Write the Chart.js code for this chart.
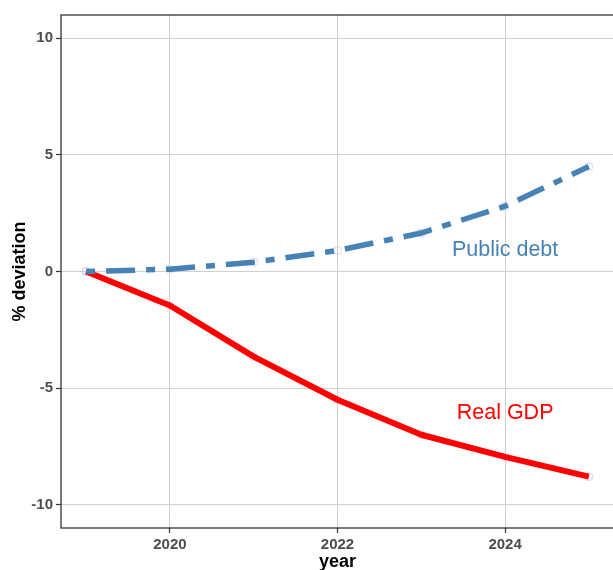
<!DOCTYPE html>
<html>
<head>
<meta charset="utf-8">
<script src="https://cdn.jsdelivr.net/npm/chart.js@4.4.1/dist/chart.umd.min.js"></script>
<style>
html,body{margin:0;padding:0;background:#fff;overflow:hidden;}
#wrap{width:620px;height:570px;}
</style>
</head>
<body>
<div id="wrap"><canvas id="c" width="620" height="570"></canvas></div>
<script>
const years = [2019, 2020, 2021, 2022, 2023, 2024, 2025];
const realGDP = [0, -1.46, -3.65, -5.5, -7.0, -7.95, -8.8];
const publicDebt = [0, 0.1, 0.4, 0.9, 1.65, 2.8, 4.5];
const xTicks = [2020, 2022, 2024];
const yTicks = [-10, -5, 0, 5, 10];
const annotations = [
  {text: 'Public debt', x: 2024, y: 1, color: '#4682b4'},
  {text: 'Real GDP', x: 2024, y: -6, color: '#ff0000'}
];

const FONT = '"Liberation Sans", Arial, sans-serif';

const decor = {
  id: 'decor',
  beforeDatasetsDraw(chart) {
    const {ctx, chartArea: a, scales} = chart;
    ctx.save();
    ctx.strokeStyle = '#333333';
    ctx.lineWidth = 1.3;
    ctx.strokeRect(a.left, a.top, a.right - a.left, a.bottom - a.top);
    // faint point rings, drawn beneath the lines
    ctx.strokeStyle = 'rgba(195,195,240,0.7)';
    ctx.lineWidth = 1;
    [realGDP, publicDebt].forEach(series => {
      series.forEach((v, i) => {
        ctx.beginPath();
        ctx.arc(scales.x.getPixelForValue(years[i]), scales.y.getPixelForValue(v), 4, 0, Math.PI * 2);
        ctx.stroke();
      });
    });
    ctx.restore();
  },
  afterDatasetsDraw(chart) {
    const {ctx, scales} = chart;
    ctx.save();
    ctx.font = '21.5px ' + FONT;
    ctx.textAlign = 'center';
    ctx.textBaseline = 'alphabetic';
    annotations.forEach(an => {
      ctx.fillStyle = an.color;
      const px = scales.x.getPixelForValue(an.x);
      const py = scales.y.getPixelForValue(an.y);
      ctx.fillText(an.text, px, py + 0.358 * 21.5);
    });
    ctx.restore();
  },
  afterDraw(chart) {
    const {ctx, chartArea: a} = chart;
    ctx.save();
    ctx.fillStyle = '#000';
    ctx.font = 'bold 18px ' + FONT;
    ctx.textAlign = 'center';
    ctx.textBaseline = 'alphabetic';
    ctx.fillText('year', (a.left + a.right) / 2, 567);
    ctx.translate(25, (a.top + a.bottom) / 2);
    ctx.rotate(-Math.PI / 2);
    ctx.fillText('% deviation', 0, 0);
    ctx.restore();
  }
};

new Chart(document.getElementById('c'), {
  type: 'line',
  data: {
    datasets: [
      {
        label: 'Public debt',
        data: years.map((y, i) => ({x: y, y: publicDebt[i]})),
        borderColor: '#4682b4',
        borderWidth: 5.5,
        borderDash: [9, 11, 29, 11],
        borderCapStyle: 'butt',
        pointRadius: 0,
        tension: 0
      },
      {
        label: 'Real GDP',
        data: years.map((y, i) => ({x: y, y: realGDP[i]})),
        borderColor: '#ff0000',
        borderWidth: 6,
        borderCapStyle: 'butt',
        borderJoinStyle: 'round',
        pointRadius: 0,
        tension: 0
      }
    ]
  },
  options: {
    responsive: false,
    animation: false,
    devicePixelRatio: 1,
    layout: {padding: {top: 15, right: 6, left: 0, bottom: 0}},
    plugins: {legend: {display: false}, tooltip: {enabled: false}},
    scales: {
      x: {
        type: 'linear',
        min: 2018.7,
        max: 2025.3,
        afterBuildTicks(s) { s.ticks = xTicks.map(v => ({value: v})); },
        afterFit(s) { s.height = 42; },
        border: {display: false},
        grid: {color: '#d0d0d0', lineWidth: 1, tickLength: 5, tickColor: '#333333', tickWidth: 1.2},
        ticks: {
          padding: 3,
          color: '#4d4d4d',
          font: {family: FONT, size: 15, weight: 'bold'},
          callback: v => String(v),
          maxRotation: 0
        }
      },
      y: {
        min: -11,
        max: 11,
        afterBuildTicks(s) { s.ticks = yTicks.map(v => ({value: v})); },
        afterFit(s) { s.width = 61; },
        border: {display: false},
        grid: {color: '#d0d0d0', lineWidth: 1, tickLength: 5, tickColor: '#333333', tickWidth: 1.2},
        ticks: {
          padding: 3,
          color: '#4d4d4d',
          font: {family: FONT, size: 15, weight: 'bold'},
          callback: v => String(v)
        }
      }
    }
  },
  plugins: [decor]
});
</script>
</body>
</html>
